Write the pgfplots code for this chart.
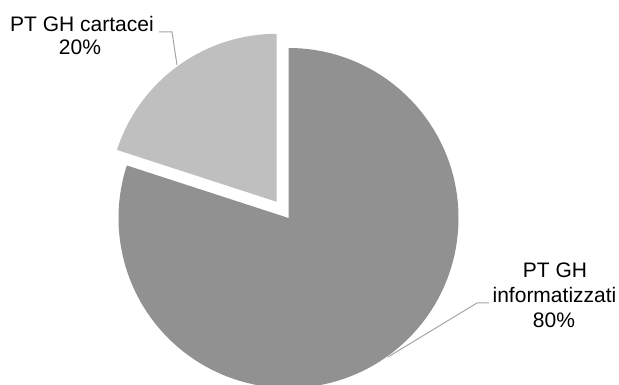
\documentclass[border=0pt]{standalone}
\usepackage{pgfplots}
\usepackage{pgfplotstable}
\pgfplotsset{compat=1.18}
\usepackage{fontspec}
\setmainfont{Liberation Sans}
\definecolor{darkslice}{RGB}{145,145,145}
\definecolor{lightslice}{RGB}{191,191,191}
\definecolor{leader}{RGB}{166,166,166}
\pgfplotstableread{
label value
informatizzati 80
cartacei 20
}\piedata
\newcommand\lblfont{\fontsize{21}{24}\selectfont}
\tikzset{lbl/.style={font=\lblfont,inner sep=0pt,anchor=base}}
\begin{document}
\begin{tikzpicture}
\path[use as bounding box] (0,0) rectangle (619pt,385pt);
\pgfplotstablegetelem{0}{value}\of\piedata \edef\vA{\pgfplotsretval}
\pgfplotstablegetelem{1}{value}\of\piedata \edef\vB{\pgfplotsretval}
\pgfmathsetmacro\endA{90-3.6*\vA}
\pgfmathsetmacro\midB{90+1.8*\vB}
\pgfmathsetmacro\endB{90+3.6*\vB}
\begin{axis}[x=1pt,y=1pt,xmin=0,xmax=619,ymin=0,ymax=385,hide axis,clip=false,
  anchor=origin,at={(0,0)},scale only axis]
\fill[darkslice] (axis cs:288.5,167) -- ++(90:170pt) arc[start angle=90,end angle=\endA,radius=170pt] -- cycle;
\fill[lightslice] (axis cs:288.5,167) ++(\midB:20pt) -- ++(90:168pt) arc[start angle=90,end angle=\endB,radius=168pt] -- cycle;
\draw[leader,line width=1pt] (axis cs:159,353) -- (axis cs:172,353) -- (axis cs:177,320);
\draw[leader,line width=1pt] (axis cs:489,82) -- (axis cs:477,82) -- (axis cs:388,28);
\node[lbl] at (axis cs:82,353) {\lblfont PT GH cartacei};
\node[lbl] at (axis cs:80,330) {\lblfont \vB\%};
\node[lbl] at (axis cs:555,107) {\lblfont PT GH};
\node[lbl] at (axis cs:554.5,82) {\lblfont informatizzati};
\node[lbl] at (axis cs:554,57) {\lblfont \vA\%};
\end{axis}
\end{tikzpicture}
\end{document}
